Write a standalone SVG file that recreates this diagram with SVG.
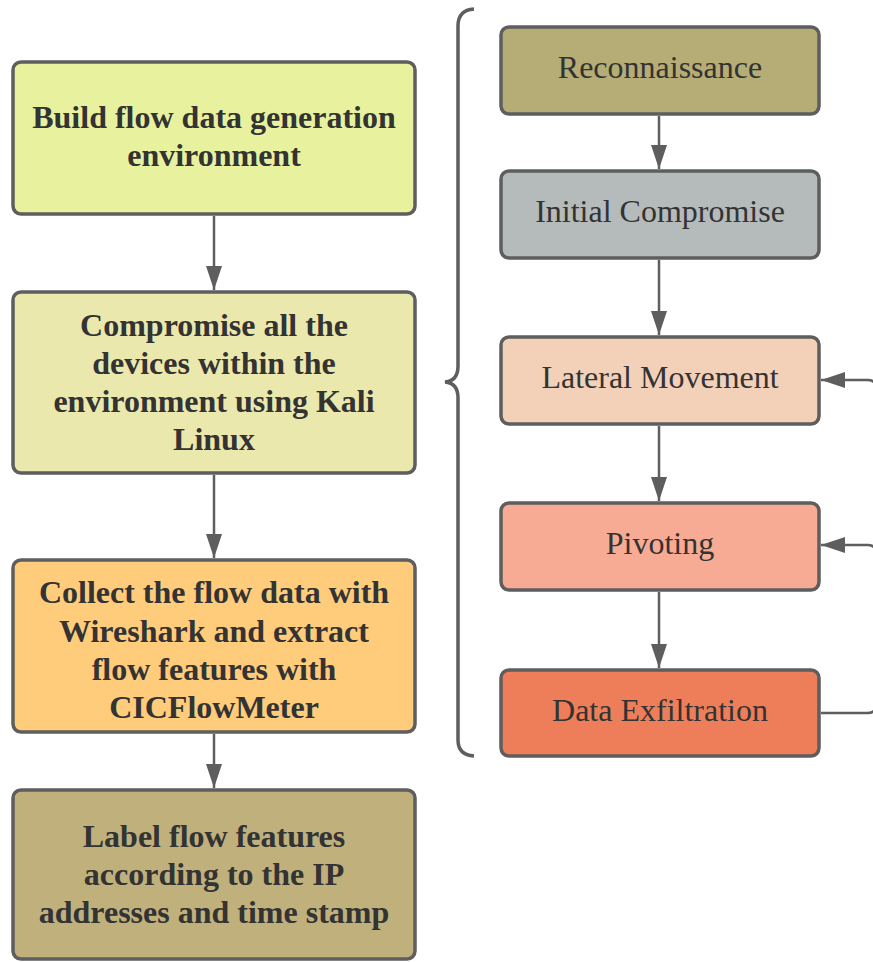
<svg xmlns="http://www.w3.org/2000/svg" width="873" height="962" viewBox="0 0 873 962">
  <style>
    .box { stroke: #5e5e5e; stroke-width: 3.5; }
    .bold { font-family: "Liberation Serif", "DejaVu Serif", serif; font-weight: bold; font-size: 32px; fill: #333333; text-anchor: middle; }
    .reg { font-family: "Liberation Serif", "DejaVu Serif", serif; font-size: 32px; fill: #333333; text-anchor: middle; }
    .link { stroke: #5e5e5e; stroke-width: 2.5; fill: none; }
  </style>
  <defs>
    <marker id="arrow" markerWidth="24" markerHeight="16" refX="24" refY="8" viewBox="0 0 24 16" orient="auto" markerUnits="userSpaceOnUse">
      <path d="M0,0 L24,8 L0,16 Z" fill="#5e5e5e"/>
    </marker>
  </defs>

  <!-- left process column -->
  <g id="build-env">
    <rect class="box" x="13" y="62" width="402" height="152" rx="8" fill="#e8f29e"/>
    <text class="bold" x="214" y="128">Build flow data generation</text>
    <text class="bold" x="214" y="166">environment</text>
  </g>
  <g id="compromise">
    <rect class="box" x="13" y="292" width="402" height="181" rx="8" fill="#ebe8ad"/>
    <text class="bold" x="214" y="336">Compromise all the</text>
    <text class="bold" x="214" y="374">devices within the</text>
    <text class="bold" x="214" y="412">environment using Kali</text>
    <text class="bold" x="214" y="450">Linux</text>
  </g>
  <g id="collect">
    <rect class="box" x="13" y="560" width="402" height="172" rx="8" fill="#ffcc7b"/>
    <text class="bold" x="214" y="603">Collect the flow data with</text>
    <text class="bold" x="214" y="642">Wireshark and extract</text>
    <text class="bold" x="214" y="680">flow features with</text>
    <text class="bold" x="214" y="718">CICFlowMeter</text>
  </g>
  <g id="label">
    <rect class="box" x="13" y="790" width="402" height="169" rx="8" fill="#bfb07c"/>
    <text class="bold" x="214" y="847">Label flow features</text>
    <text class="bold" x="214" y="885">according to the IP</text>
    <text class="bold" x="214" y="923">addresses and time stamp</text>
  </g>

  <!-- attack stages column -->
  <g id="reconnaissance">
    <rect class="box" x="501" y="27" width="318" height="87" rx="8" fill="#b6ad76"/>
    <text class="reg" x="660" y="78">Reconnaissance</text>
  </g>
  <g id="initial-compromise">
    <rect class="box" x="501" y="171" width="318" height="87" rx="8" fill="#b5babb"/>
    <text class="reg" x="660" y="222">Initial Compromise</text>
  </g>
  <g id="lateral-movement">
    <rect class="box" x="501" y="337" width="318" height="87" rx="8" fill="#f3d0b8"/>
    <text class="reg" x="660" y="388">Lateral Movement</text>
  </g>
  <g id="pivoting">
    <rect class="box" x="501" y="503" width="318" height="87" rx="8" fill="#f7ab94"/>
    <text class="reg" x="660" y="554">Pivoting</text>
  </g>
  <g id="data-exfiltration">
    <rect class="box" x="501" y="670" width="318" height="86" rx="8" fill="#ed7e59"/>
    <text class="reg" x="660" y="721">Data Exfiltration</text>
  </g>

  <!-- connectors -->
  <g id="connectors">
    <line class="link" x1="214" y1="216" x2="214" y2="290" marker-end="url(#arrow)"/>
    <line class="link" x1="214" y1="475" x2="214" y2="558" marker-end="url(#arrow)"/>
    <line class="link" x1="214" y1="734" x2="214" y2="788" marker-end="url(#arrow)"/>

    <line class="link" x1="659" y1="116" x2="659" y2="169" marker-end="url(#arrow)"/>
    <line class="link" x1="659" y1="260" x2="659" y2="335" marker-end="url(#arrow)"/>
    <line class="link" x1="659" y1="426" x2="659" y2="501" marker-end="url(#arrow)"/>
    <line class="link" x1="659" y1="592" x2="659" y2="668" marker-end="url(#arrow)"/>

    <!-- feedback loop from exfiltration back to earlier stages -->
    <path class="link" d="M821,713 H868 Q876,713 876,705 V388 Q876,380 868,380 H821" marker-end="url(#arrow)"/>
    <path class="link" d="M876,553 Q876,545 868,545 H821" marker-end="url(#arrow)"/>

    <!-- brace grouping the attack stages -->
    <path d="M474,9 Q458,10 458,26 V366 Q458,381 445,382 Q458,383 458,398 V740 Q458,755 474,756" stroke="#5e5e5e" stroke-width="3.5" fill="none"/>
  </g>
</svg>
